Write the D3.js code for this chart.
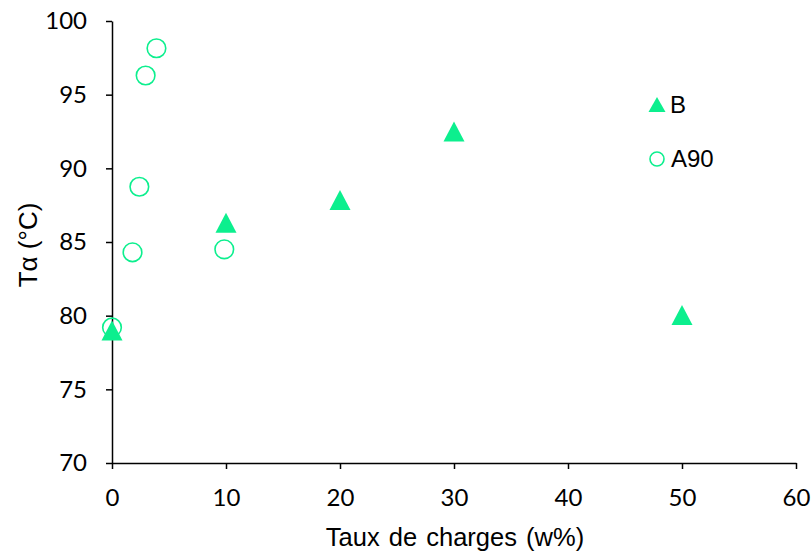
<!DOCTYPE html>
<html><head><meta charset="utf-8">
<script src="https://cdn.jsdelivr.net/npm/d3@7"></script>
<style>body{margin:0;background:#fff;} svg{display:block;}
.ttl{font-family:"Liberation Sans", Arial, sans-serif;}
.tk text{font-family:Lato, "Open Sans", sans-serif; font-size:24px; fill:#000;}
</style>
</head><body><svg id="c" width="811" height="554"></svg>
<script>
const seriesB_x = [0, 10, 20, 30, 50];
const seriesB_y = [79.0, 86.3, 87.85, 92.5, 80.05];
const seriesA90_x = [0, 1.8, 2.4, 2.95, 3.9, 9.85];
const seriesA90_y = [79.2, 84.3, 88.75, 96.3, 98.15, 84.5];
const xTicks = [0, 10, 20, 30, 40, 50, 60];
const yTicks = [70, 75, 80, 85, 90, 95, 100];
const legendLabels = ["B", "A90"];

const color = "#0CEF8E";
const svg = d3.select("#c");
const x = d3.scaleLinear().domain([0, 60]).range([112, 796]);
const y = d3.scaleLinear().domain([70, 100]).range([463, 21]);

const xAxis = svg.append("g").attr("class", "tk").attr("transform", "translate(0,463)")
  .call(d3.axisBottom(x).tickValues(xTicks).tickSize(6).tickSizeOuter(0).tickPadding(20));
const yAxis = svg.append("g").attr("class", "tk").attr("transform", "translate(112,0)")
  .call(d3.axisLeft(y).tickValues(yTicks).tickSize(6).tickSizeOuter(0).tickPadding(19));
[xAxis, yAxis].forEach(a => {
  a.attr("font-family", null).attr("font-size", null);
  a.selectAll("path,line").attr("stroke", "#000").attr("stroke-width", 1.5);
});

// A90 circles
svg.append("g").selectAll("circle").data(seriesA90_x).join("circle")
  .attr("cx", (d) => x(d)).attr("cy", (d, i) => y(seriesA90_y[i])).attr("r", 9.3)
  .attr("fill", "none").attr("stroke", color).attr("stroke-width", 1.6);

// B triangles
const tri = (cx, cy, w, h) => `M${cx},${cy - h/2}L${cx + w/2},${cy + h/2}L${cx - w/2},${cy + h/2}Z`;
svg.append("g").selectAll("path").data(seriesB_x).join("path")
  .attr("d", (d, i) => tri(x(d), y(seriesB_y[i]), 21, 20))
  .attr("fill", color);

// Axis titles
svg.append("text").attr("class", "ttl").attr("x", 455).attr("y", 546).attr("text-anchor", "middle")
  .attr("font-size", 25.5).attr("word-spacing", 2).text("Taux de charges (w%)");
svg.append("text").attr("class", "ttl").attr("transform", "translate(37,245) rotate(-90)").attr("text-anchor", "middle")
  .attr("font-size", 26).text("Tα (°C)");

// Legend
const lg = svg.append("g");
lg.append("path").attr("d", tri(657, 104.5, 17, 15)).attr("fill", color);
lg.append("text").attr("class", "ttl").attr("x", 670).attr("y", 113).attr("font-size", 24).text(legendLabels[0]);
lg.append("circle").attr("cx", 657).attr("cy", 159).attr("r", 7).attr("fill", "none").attr("stroke", color).attr("stroke-width", 1.6);
lg.append("text").attr("class", "ttl").attr("x", 671).attr("y", 167).attr("font-size", 24).text(legendLabels[1]);
</script></body></html>
